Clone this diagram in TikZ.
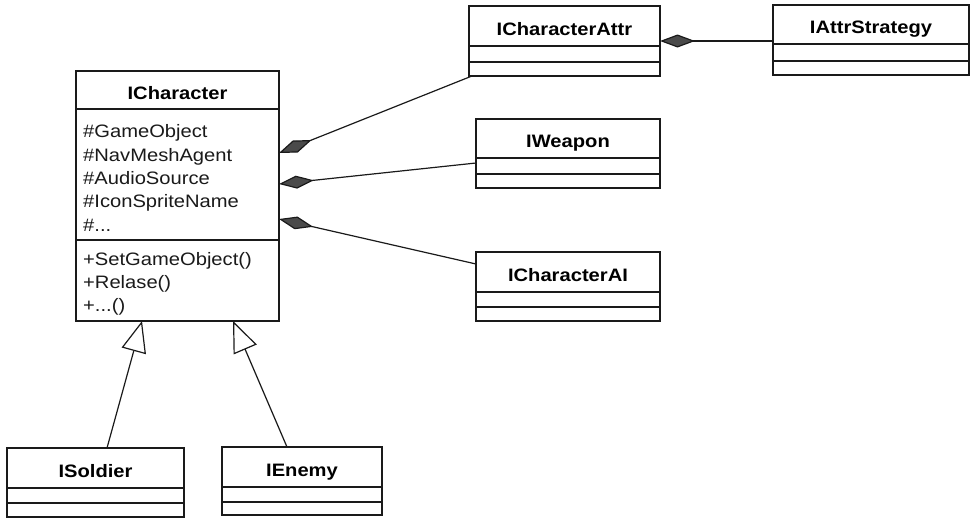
\documentclass[tikz,border=0pt]{standalone}
\usepackage{fontspec}
\setmainfont{Liberation Sans}[FakeStretch=1.12]
\usetikzlibrary{arrows.meta,calc}
\definecolor{diamondgray}{HTML}{4A4A4A}
\definecolor{ink}{HTML}{1A1A1A}
\newcommand\mkclass[8]{%
  \node[box, minimum width=#4pt, minimum height=#5pt, font=\titlefont, text height=18pt, text depth=0pt] (#1) at (#2,#3) {#8};
  \node[box, minimum width=#4pt, minimum height=#6pt] (#1a) at (#1.south west) {};
  \node[box, minimum width=#4pt, minimum height=#7pt] (#1b) at (#1a.south west) {};
}
\newcommand\titlefont{\fontsize{18}{21}\selectfont\bfseries}
\newcommand\bodyfont{\fontsize{18}{21}\selectfont}
\begin{document}
\begin{tikzpicture}[x=1pt,y=-1pt,
  box/.style={draw=ink, line width=1.2pt, inner sep=0pt, outer sep=0pt, anchor=north west},
  member/.style={anchor=base west, inner sep=0pt, font=\bodyfont, text=ink},
  compo/.style={draw=ink, line width=1.2pt, -{Diamond[length=35pt,width=13pt,fill=diamondgray]}},
  inh/.style={draw=ink, line width=1.2pt, -{Triangle[length=31pt,width=25pt,fill=white]}}]
\useasboundingbox (0,0) rectangle (977,522);
\fill[white] (0,0) rectangle (977,522);

\mkclass{ca}{469}{6}{191}{40}{16}{14}{ICharacterAttr}
\mkclass{ias}{773}{5}{196}{39}{17}{14}{IAttrStrategy}
\mkclass{wp}{476}{119}{184}{39}{16}{14}{IWeapon}
\mkclass{ai}{476}{252}{184}{40}{15}{14}{ICharacterAI}
\mkclass{so}{7}{448}{177}{40}{15}{14}{ISoldier}
\mkclass{en}{222}{447}{160}{40}{15}{13}{IEnemy}
\mkclass{ch}{76}{71}{203}{38}{131}{81}{ICharacter}

\node[member] (m1) at (83,137) {\#GameObject};
\node[member] (m2) at (83,161) {\#NavMeshAgent};
\node[member] (m3) at (83,184) {\#AudioSource};
\node[member] (m4) at (83,207) {\#IconSpriteName};
\node[member] (m5) at (83,231) {\#...};
\node[member] (o1) at (83,265) {+SetGameObject()};
\node[member] (o2) at (83,288) {+Relase()};
\node[member] (o3) at (83,311) {+...()};

\draw[compo] (ias.west |- 0,41) -- (ca.east |- 0,41);
\draw[compo] ([xshift=3pt]cab.south west) -- (ch.east |- 0,153);
\draw[compo] (wp.west |- 0,163) -- (ch.east |- 0,184);
\draw[compo] (ai.west |- 0,264) -- (ch.east |- 0,219);

\draw[inh] (so.north -| 107,0) -- (chb.south -| 142,0);
\draw[inh] (en.north -| 287,0) -- (chb.south -| 233,0);
\end{tikzpicture}
\end{document}
